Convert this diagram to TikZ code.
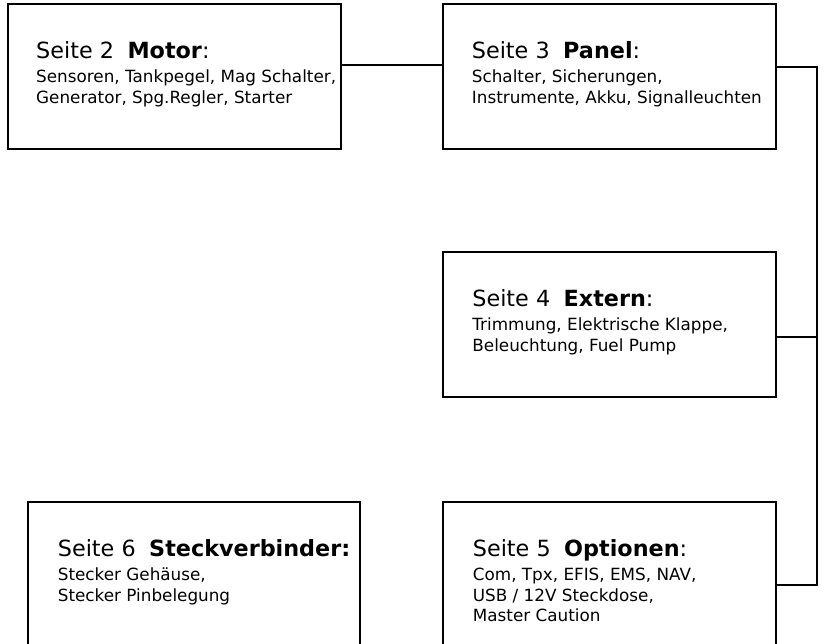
\documentclass[tikz,border=0pt]{standalone}
\usepackage{fontspec}
\setmainfont{DejaVu Sans}
\usetikzlibrary{calc}
\begin{document}
\begin{tikzpicture}[x=1pt,y=-1pt,
  box/.style={draw, line width=2pt, inner sep=0pt, outer sep=0pt, minimum width=333pt, minimum height=145pt, anchor=north west},
  ttl/.style={anchor=base west, inner sep=0pt, font=\fontsize{22.3}{27}\selectfont},
  bdy/.style={anchor=north west, inner sep=0pt, align=left, font=\fontsize{16.8}{20.8}\selectfont},
  wire/.style={line width=1.9pt}]
\useasboundingbox (0,0) rectangle (832,643);
\clip (0,0) rectangle (832,643);
% boxes
\node[box] (motor) at (7.5,4) {};
\node[box] (panel) at (442.7,4) {};
\node[box] (extern) at (442.7,252.3) {};
\node[box, minimum height=160pt] (optionen) at (442.7,502.3) {};
\node[box, minimum width=332.3pt, minimum height=160pt] (stecker) at (27.7,502.3) {};
% texts
\node[ttl] (motorT) at ($(motor.north west)+(28.5,54)$) {Seite 2\hspace{13.5pt}\textbf{Motor}:};
\node[bdy] (motorB) at ($(motor.north west)+(28.5,65.3)$) {Sensoren, Tankpegel, Mag Schalter,\\Generator, Spg.Regler, Starter};
\node[ttl] (panelT) at ($(panel.north west)+(29,54)$) {Seite 3\hspace{13.5pt}\textbf{Panel}:};
\node[bdy] (panelB) at ($(panel.north west)+(29,65.3)$) {Schalter, Sicherungen,\\Instrumente, Akku, Signalleuchten};
\node[ttl] (externT) at ($(extern.north west)+(29.5,54)$) {Seite 4\hspace{13.5pt}\textbf{Extern}:};
\node[bdy] (externB) at ($(extern.north west)+(29.5,65.3)$) {Trimmung, Elektrische Klappe,\\Beleuchtung, Fuel Pump};
\node[ttl] (optionenT) at ($(optionen.north west)+(30,54)$) {Seite 5\hspace{13.5pt}\textbf{Optionen}:};
\node[bdy] (optionenB) at ($(optionen.north west)+(30,65.3)$) {Com, Tpx, EFIS, EMS, NAV,\\USB / 12V Steckdose,\\Master Caution};
\node[ttl] (steckerT) at ($(stecker.north west)+(30,54)$) {Seite 6\hspace{13.5pt}\textbf{Steckverbinder:}};
\node[bdy] (steckerB) at ($(stecker.north west)+(30,65.3)$) {Stecker Gehäuse,\\Stecker Pinbelegung};
% connectors
\coordinate (bus) at (816.7,0);
\coordinate (m1) at ($(motor.north east)+(0,61)$);
\coordinate (p1) at ($(panel.north east)+(0,63)$);
\coordinate (e1) at ($(extern.north east)+(0,84.4)$);
\coordinate (o1) at ($(optionen.north east)+(0,82.7)$);
\draw[wire] (m1) -- (m1 -| panel.west);
\draw[wire] (p1) -| (bus |- o1) -- (o1);
\draw[wire] (e1) -- (e1 -| bus);
\end{tikzpicture}
\end{document}
